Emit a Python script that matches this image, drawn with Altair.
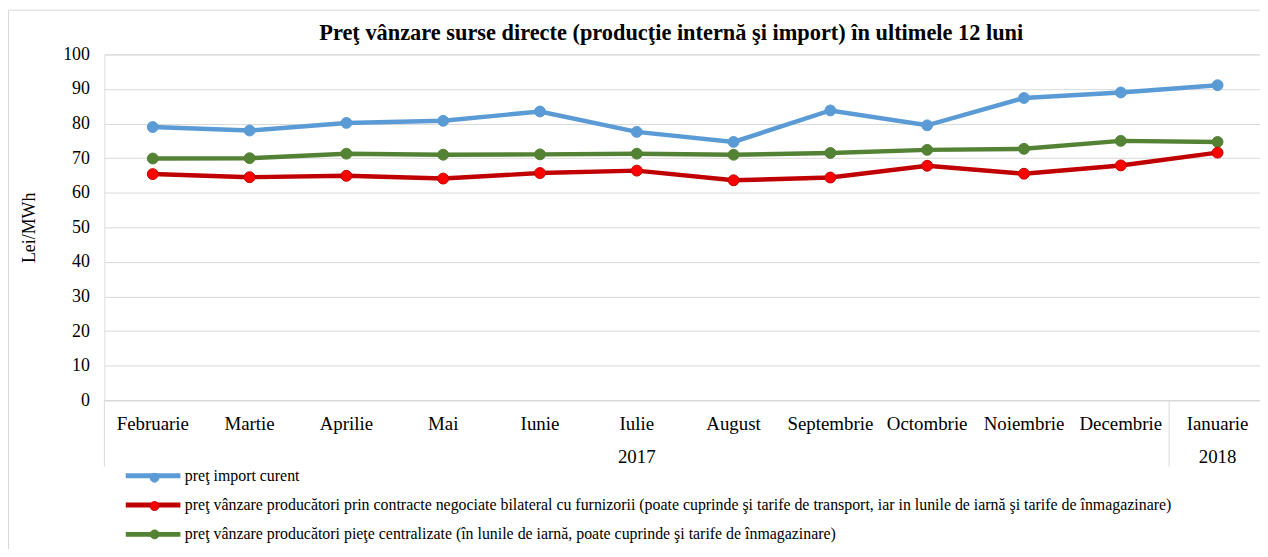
import altair as alt
import pandas as pd

months = ["Februarie", "Martie", "Aprilie", "Mai", "Iunie", "Iulie", "August",
          "Septembrie", "Octombrie", "Noiembrie", "Decembrie", "Ianuarie"]
series_names = [
    "preţ import curent",
    "preţ vânzare producători prin contracte negociate bilateral cu furnizorii (poate cuprinde şi tarife de transport, iar in lunile de iarnă şi tarife de înmagazinare)",
    "preţ vânzare producători pieţe centralizate (în lunile de iarnă, poate cuprinde şi tarife de înmagazinare)",
]
import_curent = [79.0, 78.0, 80.2, 80.8, 83.5, 77.6, 74.7, 83.8, 79.5, 87.4, 89.0, 91.1]
bilateral = [65.4, 64.5, 64.9, 64.1, 65.7, 66.4, 63.6, 64.4, 67.8, 65.5, 67.9, 71.6]
centralizate = [69.9, 70.0, 71.3, 71.0, 71.1, 71.3, 71.0, 71.5, 72.4, 72.7, 75.0, 74.7]

year_labels = ["2017", "2018"]
year_label_month = ["Iulie", "Ianuarie"]
year_start_month = ["Februarie", "Ianuarie"]

line_colors = ["#5B9BD5", "#C00000", "#548235"]
marker_fill = ["#5B9BD5", "#FF0000", "#548235"]
marker_stroke = ["#5B9BD5", "#C00000", "#548235"]

FONT = "Liberation Serif"
W, H = 1169, 348

rows = []
for sid, (name, vals) in enumerate(zip(series_names, [import_curent, bilateral, centralizate]), start=1):
    for m, v in zip(months, vals):
        rows.append({"month": m, "value": v, "series": name, "sid": sid})
df = pd.DataFrame(rows)
order = {1: 0, 3: 1, 2: 2}
df["draw"] = df["sid"].map(order)

x_scale = alt.Scale(domain=months, paddingInner=0, paddingOuter=0)
x_axis = alt.Axis(title=None, labelFont=FONT, labelFontSize=19, labelColor="#000000",
                  labelPadding=14, ticks=False, domainColor="#d9d9d9", domainWidth=1,
                  labelAngle=0, grid=False, bandPosition=0.5, labelOverlap=False)
y_scale = alt.Scale(domain=[0, 100], nice=False)
y_axis = alt.Axis(values=list(range(0, 101, 10)), title="Lei/MWh",
                  titleFont=FONT, titleFontSize=18, titleFontWeight="normal",
                  titleColor="#000000", titleX=-75, titleY=H / 2, titleAngle=-90,
                  titleAlign="center", titleBaseline="middle",
                  labelFont=FONT, labelFontSize=18, labelColor="#000000",
                  labelPadding=15, ticks=False, domain=False, labelOverlap=False,
                  gridColor="#d9d9d9", gridWidth=1)


def xe(**kw):
    return alt.X("month:N", sort=months, scale=x_scale, axis=x_axis, **kw)


def ye():
    return alt.Y("value:Q", scale=y_scale, axis=y_axis)


lines = alt.Chart(df).mark_line(strokeWidth=4.5).encode(
    x=xe(), y=ye(),
    color=alt.Color("series:N",
                    scale=alt.Scale(domain=series_names, range=line_colors),
                    legend=alt.Legend(title=None, orient="none", legendX=41, legendY=416,
                                      direction="vertical", padding=0,
                                      symbolType="M-6.875,0H6.875", symbolSize=64,
                                      symbolStrokeWidth=5, labelFont=FONT, labelFontSize=16,
                                      labelColor="#000000", labelOffset=24, rowPadding=9.5,
                                      labelLimit=1200)),
    detail="series:N",
)

points = alt.Chart(df).mark_point(filled=True, size=120, opacity=1, strokeWidth=1).encode(
    x=xe(), y=ye(),
    fill=alt.Fill("sid:N", scale=alt.Scale(domain=[1, 2, 3], range=marker_fill),
                  legend=alt.Legend(title=None, orient="none", legendX=42.5, legendY=418,
                                    direction="vertical", padding=0, symbolType="circle",
                                    symbolSize=80, symbolStrokeWidth=1, symbolOpacity=1,
                                    labelFont=FONT, labelFontSize=16, labelColor="transparent",
                                    rowPadding=12.5)),
    stroke=alt.Stroke("sid:N", scale=alt.Scale(domain=[1, 2, 3], range=marker_stroke), legend=None),
    order=alt.Order("draw:Q"),
)

sep_df = pd.DataFrame({"month": year_start_month})
separators = alt.Chart(sep_df).mark_rule(color="#d9d9d9", strokeWidth=1).encode(
    x=xe(bandPosition=0),
    y=alt.value(H), y2=alt.value(H + 67),
)

yr_df = pd.DataFrame({"month": year_label_month, "label": year_labels})
years = alt.Chart(yr_df).mark_text(font=FONT, fontSize=19, color="#000000", baseline="middle").encode(
    x=xe(), y=alt.value(H + 57), text="label:N",
)

border = alt.Chart(pd.DataFrame({"a": [0]})).mark_rect(
    fill="transparent", stroke="#d9d9d9", strokeWidth=1
).encode(x=alt.value(-96.5), x2=alt.value(W + 200), y=alt.value(-44.5), y2=alt.value(H + 300))

chart = alt.layer(border, separators, lines, points, years).resolve_scale(
    color="independent", fill="independent", stroke="independent"
).properties(
    width=W, height=H,
    title=alt.TitleParams(
        "Preţ vânzare surse directe (producţie internă şi import) în ultimele 12 luni",
        font=FONT, fontSize=22.5, fontWeight="bold", color="#000000", offset=11, dx=-14,
        dy=46, anchor="middle", frame="group",
    ),
    autosize=alt.AutoSizeParams(type="none"),
    padding={"left": 97, "top": 45, "right": -6, "bottom": 148},
).configure_view(stroke=None).configure(background="white")

chart.save("out.html", embed_options={"renderer": "svg", "actions": False})
